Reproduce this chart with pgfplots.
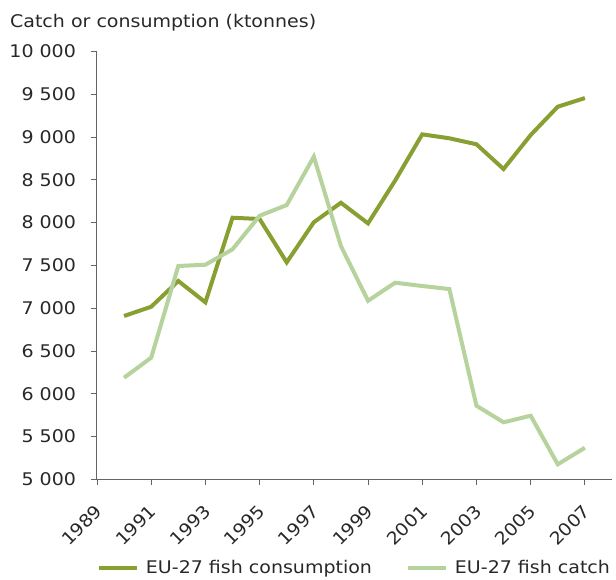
\documentclass[border=0pt]{standalone}
\usepackage{pgfplots}
\pgfplotsset{compat=1.18}
\usepackage{fontspec}
\setmainfont[FakeStretch=1.09]{DejaVu Sans}
\definecolor{consGreen}{RGB}{136,159,50}
\definecolor{catchGreen}{RGB}{182,210,157}
\definecolor{txtGray}{RGB}{40,40,40}
\definecolor{axGray}{RGB}{100,100,100}

\begin{document}
\begin{tikzpicture}
\begin{axis}[
    scale only axis,
    width=515bp, height=428bp,
    xmin=1989, xmax=2008,
    ymin=5000, ymax=10000,
    xtick={1989,1991,...,2007},
    ytick={5000,5500,...,10000},
    scaled ticks=false,
    axis x line=bottom, axis y line=left,
    axis line style={axGray, line width=1bp, -},
    tick style={axGray, line width=0.8bp},
    tick align=outside,
    major tick length=5.5bp,
    font=\fontsize{17.5}{21}\selectfont\color{txtGray},
    /pgf/number format/assume math mode=true,
    yticklabel style={/pgf/number format/1000 sep={\ }, xshift=-12bp},
    xticklabel style={/pgf/number format/1000 sep={}, inner sep=0pt,
        xshift=2bp, yshift=-23bp, rotate=45, anchor=east},
    legend columns=2,
    legend style={at={(0.5,-0.207)}, anchor=center, draw=none, fill=none,
        font=\fontsize{17.5}{21}\selectfont\color{txtGray},
        /tikz/every odd column/.append style={column sep=5bp},
        /tikz/every even column/.append style={column sep=32bp}},
    legend image code/.code={\draw[#1, line width=4bp] (0bp,0bp) -- (38bp,0bp);},
    clip=false,
]
% EU-27 fish consumption
\addplot[consGreen, line width=4bp] table {
1990 6908
1991 7016
1992 7317
1993 7068
1994 8056
1995 8041
1996 7535
1997 8003
1998 8231
1999 7990
2000 8490
2001 9030
2002 8984
2003 8914
2004 8625
2005 9022
2006 9353
2007 9454
};
\addlegendentry{EU-27 fish consumption}

% EU-27 fish catch
\addplot[catchGreen, line width=4bp] table {
1990 6187
1991 6421
1992 7492
1993 7507
1994 7687
1995 8079
1996 8204
1997 8769
1998 7725
1999 7086
2000 7297
2001 7258
2002 7223
2003 5860
2004 5666
2005 5743
2006 5175
2007 5369
};
\addlegendentry{EU-27 fish catch}

\node[anchor=west, font=\fontsize{17.5}{21}\selectfont, text=txtGray, inner sep=0pt]
    at (axis description cs:-0.169,1.068) {Catch or consumption (ktonnes)};
% page frame matching the reference margins
\path (axis description cs:-0.1883,-0.2259) rectangle (axis description cs:1.0078,1.1199);
\end{axis}
\end{tikzpicture}
\end{document}
